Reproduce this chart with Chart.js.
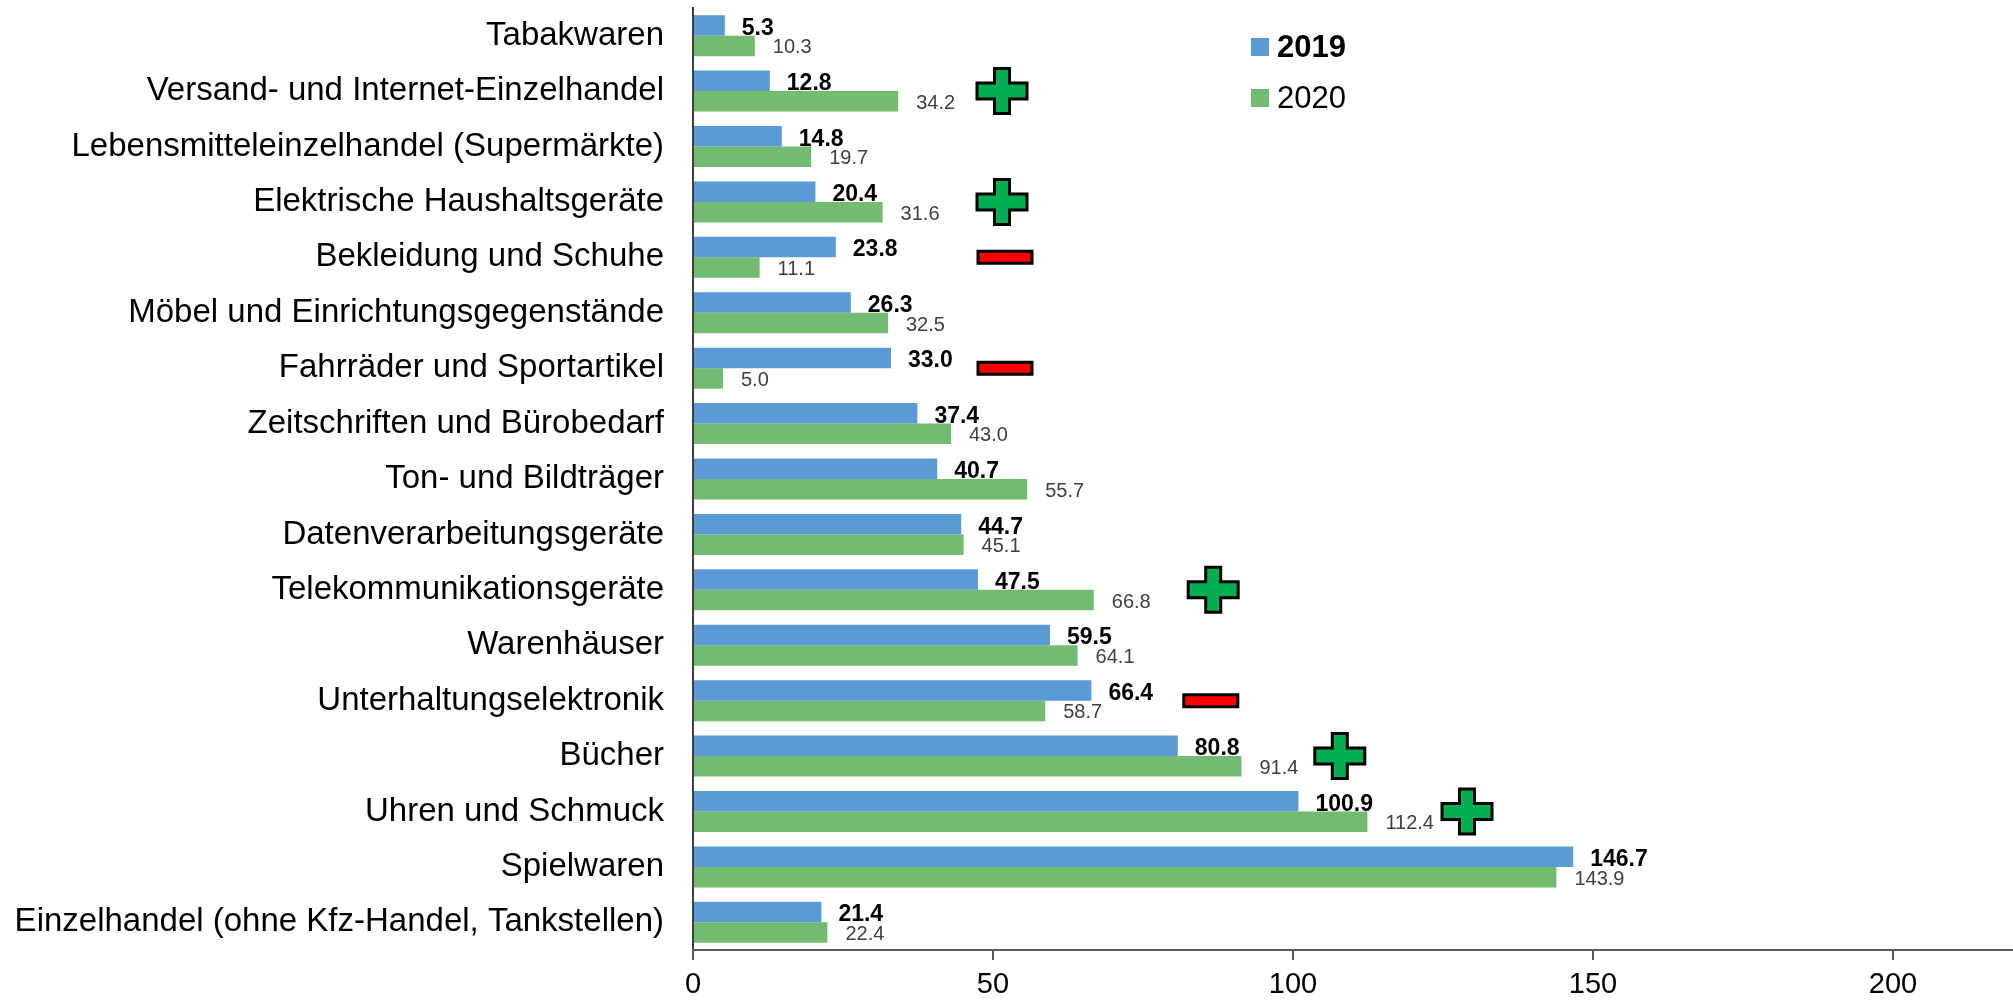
<!DOCTYPE html>
<html>
<head>
<meta charset="utf-8">
<script src="https://cdn.jsdelivr.net/npm/chart.js@4.4.1/dist/chart.umd.min.js"></script>
<style>
  html, body { margin: 0; padding: 0; background: #fff; }
</style>
</head>
<body>
<canvas id="chart" width="2013" height="1004"></canvas>
<script>
// --- DATEN ---
const categories = [
    'Tabakwaren',
    'Versand- und Internet-Einzelhandel',
    'Lebensmitteleinzelhandel (Supermärkte)',
    'Elektrische Haushaltsgeräte',
    'Bekleidung und Schuhe',
    'Möbel und Einrichtungsgegenstände',
    'Fahrräder und Sportartikel',
    'Zeitschriften und Bürobedarf',
    'Ton- und Bildträger',
    'Datenverarbeitungsgeräte',
    'Telekommunikationsgeräte',
    'Warenhäuser',
    'Unterhaltungselektronik',
    'Bücher',
    'Uhren und Schmuck',
    'Spielwaren',
    'Einzelhandel (ohne Kfz-Handel, Tankstellen)'
];
const values2019 = [5.3, 12.8, 14.8, 20.4, 23.8, 26.3, 33.0, 37.4, 40.7, 44.7, 47.5, 59.5, 66.4, 80.8, 100.9, 146.7, 21.4];
const values2020 = [10.3, 34.2, 19.7, 31.6, 11.1, 32.5, 5.0, 43.0, 55.7, 45.1, 66.8, 64.1, 58.7, 91.4, 112.4, 143.9, 22.4];
const seriesLabels = ['2019', '2020'];
const xTicks = [0, 50, 100, 150, 200];

// Plus/Minus-Zeichen: Kategorie-Index, Wert auf der x-Achse, Art
const markerIndex = [1, 3, 4, 6, 10, 12, 13, 14];
const markerValue = [51.5, 51.5, 52, 52, 86.7, 86.3, 107.8, 129];
const markerType = ['plus', 'plus', 'minus', 'minus', 'plus', 'minus', 'plus', 'plus'];

const colors = ['#5B9BD5', '#73BB6F'];

// Werte rechts neben den Balken
const barLabels = {
    id: 'barLabels',
    afterDatasetsDraw(chart) {
        const ctx = chart.ctx;
        ctx.save();
        ctx.textBaseline = 'middle';
        ctx.textAlign = 'left';
        chart.data.datasets.forEach((ds, di) => {
            const meta = chart.getDatasetMeta(di);
            if (di === 0) {
                ctx.font = 'bold 23px "Liberation Sans"';
                ctx.fillStyle = '#000';
            } else {
                ctx.font = '20px "Liberation Sans"';
                ctx.fillStyle = '#404040';
            }
            const gap = di === 0 ? 17 : 18;
            const dy = di === 0 ? 3 : 2;
            meta.data.forEach((bar, i) => {
                ctx.fillText(ds.data[i].toFixed(1), bar.x + gap, bar.y + dy);
            });
        });
        ctx.restore();
    }
};

// grüne Kreuze / rote Striche
const markers = {
    id: 'markers',
    afterDatasetsDraw(chart) {
        const ctx = chart.ctx;
        const xs = chart.scales.x, ys = chart.scales.y;
        ctx.save();
        ctx.lineWidth = 3;
        ctx.strokeStyle = '#000';
        markerIndex.forEach((idx, k) => {
            const cx = xs.getPixelForValue(markerValue[k]);
            const cy = ys.getPixelForValue(idx);
            ctx.beginPath();
            if (markerType[k] === 'plus') {
                const w = 50, h = 45, a = 15, b = 16;
                ctx.moveTo(cx - a / 2, cy - h / 2);
                ctx.lineTo(cx + a / 2, cy - h / 2);
                ctx.lineTo(cx + a / 2, cy - b / 2);
                ctx.lineTo(cx + w / 2, cy - b / 2);
                ctx.lineTo(cx + w / 2, cy + b / 2);
                ctx.lineTo(cx + a / 2, cy + b / 2);
                ctx.lineTo(cx + a / 2, cy + h / 2);
                ctx.lineTo(cx - a / 2, cy + h / 2);
                ctx.lineTo(cx - a / 2, cy + b / 2);
                ctx.lineTo(cx - w / 2, cy + b / 2);
                ctx.lineTo(cx - w / 2, cy - b / 2);
                ctx.lineTo(cx - a / 2, cy - b / 2);
                ctx.closePath();
                ctx.fillStyle = '#00B050';
            } else {
                ctx.rect(cx - 27, cy - 6, 54, 12);
                ctx.fillStyle = '#FF0000';
            }
            ctx.fill();
            ctx.stroke();
        });
        ctx.restore();
    }
};

// Legende oben rechts im Diagramm
const innerLegend = {
    id: 'innerLegend',
    afterDraw(chart) {
        const ctx = chart.ctx;
        ctx.save();
        ctx.textBaseline = 'middle';
        chart.data.datasets.forEach((ds, di) => {
            const cy = 47 + di * 51;
            ctx.fillStyle = ds.backgroundColor;
            ctx.fillRect(1251, cy - 9, 18, 18);
            ctx.fillStyle = '#000';
            ctx.font = (di === 0 ? 'bold ' : '') + '31px "Liberation Sans"';
            ctx.fillText(ds.label, 1277, cy + 1);
        });
        ctx.restore();
    }
};

new Chart(document.getElementById('chart'), {
    type: 'bar',
    data: {
        labels: categories,
        datasets: [
            { label: seriesLabels[0], data: values2019, backgroundColor: colors[0] },
            { label: seriesLabels[1], data: values2020, backgroundColor: colors[1] }
        ]
    },
    options: {
        indexAxis: 'y',
        responsive: false,
        animation: false,
        layout: { padding: { top: 8, right: 0, bottom: 0, left: 0 } },
        datasets: {
            bar: { categoryPercentage: 0.74, barPercentage: 1.0, borderWidth: 0 }
        },
        plugins: {
            legend: { display: false },
            tooltip: { enabled: false }
        },
        scales: {
            y: {
                type: 'category',
                grid: { display: false, drawTicks: false },
                border: { display: true, color: '#404040', width: 2 },
                ticks: {
                    autoSkip: false,
                    padding: 29,
                    color: '#000',
                    font: { family: 'Liberation Sans', size: 33 }
                },
                afterFit(scale) {
                    scale.width = 693;
                    scale.paddingTop = 0;
                    scale.paddingBottom = 0;
                }
            },
            x: {
                type: 'linear',
                min: 0,
                max: 220,
                afterBuildTicks(scale) { scale.ticks = xTicks.map(v => ({ value: v })); },
                grid: { drawOnChartArea: false, drawTicks: true, tickLength: 10, color: '#595959', lineWidth: 2 },
                border: { display: true, color: '#595959', width: 2 },
                ticks: {
                    padding: 8,
                    color: '#000',
                    font: { family: 'Liberation Sans', size: 29 }
                },
                afterFit(scale) {
                    scale.height = 54;
                    scale.paddingRight = 0;
                }
            }
        }
    },
    plugins: [barLabels, markers, innerLegend]
});
</script>
</body>
</html>
